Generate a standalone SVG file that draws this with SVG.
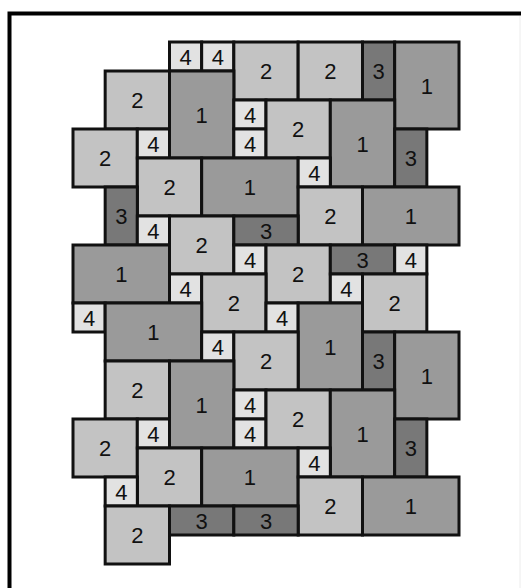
<svg xmlns="http://www.w3.org/2000/svg" width="521" height="588" viewBox="0 0 521 588">
<style>
rect.t{stroke:#111;stroke-width:3}
.a{fill:#9a9a9a}.b{fill:#c3c3c3}.c{fill:#787878}.d{fill:#e2e2e2}
text{font-family:"Liberation Sans",Arial,sans-serif;font-size:22px;fill:#111;text-anchor:middle}
</style>
<rect x="0" y="0" width="521" height="588" fill="#fff"/>
<g id="frame" fill="none" stroke="#000" stroke-width="4">
<path d="M9.5 588 V13.5 H521"/>
</g>
<line x1="520" y1="16" x2="520" y2="588" stroke="#ececec" stroke-width="1"/>
<g id="connectors"></g>
<g id="n1"><rect class="t d" x="169.5" y="42" width="32.17" height="29"/><text x="185.6" y="64.5">4</text></g>
<g id="n2"><rect class="t d" x="201.67" y="42" width="32.17" height="29"/><text x="217.75" y="64.5">4</text></g>
<g id="n3"><rect class="t b" x="233.83" y="42" width="64.33" height="58"/><text x="266" y="79">2</text></g>
<g id="n4"><rect class="t b" x="298.17" y="42" width="64.33" height="58"/><text x="330.33" y="79">2</text></g>
<g id="n5"><rect class="t c" x="362.5" y="42" width="32.17" height="58"/><text x="378.6" y="79">3</text></g>
<g id="n6"><rect class="t a" x="394.67" y="42" width="64.33" height="87"/><text x="426.83" y="93.5">1</text></g>
<g id="n7"><rect class="t b" x="105.17" y="71" width="64.33" height="58"/><text x="137.33" y="108">2</text></g>
<g id="n8"><rect class="t a" x="169.5" y="71" width="64.33" height="87"/><text x="201.67" y="122.5">1</text></g>
<g id="n9"><rect class="t d" x="233.83" y="100" width="32.17" height="29"/><text x="250" y="122.5">4</text></g>
<g id="n10"><rect class="t d" x="233.83" y="129" width="32.17" height="29"/><text x="250" y="151.5">4</text></g>
<g id="n11"><rect class="t b" x="266" y="100" width="64.33" height="58"/><text x="298.17" y="137">2</text></g>
<g id="n12"><rect class="t a" x="330.33" y="100" width="64.33" height="87"/><text x="362.5" y="151.5">1</text></g>
<g id="n13"><rect class="t b" x="73" y="129" width="64.33" height="58"/><text x="105.17" y="166">2</text></g>
<g id="n14"><rect class="t d" x="137.33" y="129" width="32.17" height="29"/><text x="153.4" y="151.5">4</text></g>
<g id="n15"><rect class="t c" x="394.67" y="129" width="32.17" height="58"/><text x="410.75" y="166">3</text></g>
<g id="n16"><rect class="t b" x="137.33" y="158" width="64.33" height="58"/><text x="169.5" y="195">2</text></g>
<g id="n17"><rect class="t a" x="201.67" y="158" width="96.5" height="58"/><text x="249.9" y="195">1</text></g>
<g id="n18"><rect class="t d" x="298.17" y="158" width="32.17" height="29"/><text x="314.25" y="180.5">4</text></g>
<g id="n19"><rect class="t c" x="105.17" y="187" width="32.17" height="58"/><text x="121.25" y="224">3</text></g>
<g id="n20"><rect class="t b" x="298.17" y="187" width="64.33" height="58"/><text x="330.33" y="224">2</text></g>
<g id="n21"><rect class="t a" x="362.5" y="187" width="96.5" height="58"/><text x="410.75" y="224">1</text></g>
<g id="n22"><rect class="t d" x="137.33" y="216" width="32.17" height="29"/><text x="153.4" y="238.5">4</text></g>
<g id="n23"><rect class="t b" x="169.5" y="216" width="64.33" height="58"/><text x="201.67" y="253">2</text></g>
<g id="n24"><rect class="t c" x="233.83" y="216" width="64.33" height="29"/><text x="266" y="238.5">3</text></g>
<g id="n25"><rect class="t a" x="73" y="245" width="96.5" height="58"/><text x="121.25" y="282">1</text></g>
<g id="n26"><rect class="t d" x="233.83" y="245" width="32.17" height="29"/><text x="250" y="267.5">4</text></g>
<g id="n27"><rect class="t b" x="266" y="245" width="64.33" height="58"/><text x="298.17" y="282">2</text></g>
<g id="n28"><rect class="t c" x="330.33" y="245" width="64.33" height="29"/><text x="362.5" y="267.5">3</text></g>
<g id="n29"><rect class="t d" x="394.67" y="245" width="32.17" height="29"/><text x="410.75" y="267.5">4</text></g>
<g id="n30"><rect class="t d" x="169.5" y="274" width="32.17" height="29"/><text x="185.6" y="296.5">4</text></g>
<g id="n31"><rect class="t b" x="201.67" y="274" width="64.33" height="58"/><text x="233.83" y="311">2</text></g>
<g id="n32"><rect class="t d" x="330.33" y="274" width="32.17" height="29"/><text x="346.4" y="296.5">4</text></g>
<g id="n33"><rect class="t b" x="362.5" y="274" width="64.33" height="58"/><text x="394.67" y="311">2</text></g>
<g id="n34"><rect class="t d" x="73" y="303" width="32.17" height="29"/><text x="89.1" y="325.5">4</text></g>
<g id="n35"><rect class="t a" x="105.17" y="303" width="96.5" height="58"/><text x="153.4" y="340">1</text></g>
<g id="n36"><rect class="t d" x="266" y="303" width="32.17" height="29"/><text x="282.1" y="325.5">4</text></g>
<g id="n37"><rect class="t a" x="298.17" y="303" width="64.33" height="87"/><text x="330.33" y="354.5">1</text></g>
<g id="n38"><rect class="t d" x="201.67" y="332" width="32.17" height="29"/><text x="217.75" y="354.5">4</text></g>
<g id="n39"><rect class="t b" x="233.83" y="332" width="64.33" height="58"/><text x="266" y="369">2</text></g>
<g id="n40"><rect class="t c" x="362.5" y="332" width="32.17" height="58"/><text x="378.6" y="369">3</text></g>
<g id="n41"><rect class="t a" x="394.67" y="332" width="64.33" height="87"/><text x="426.83" y="383.5">1</text></g>
<g id="n42"><rect class="t b" x="105.17" y="361" width="64.33" height="58"/><text x="137.33" y="398">2</text></g>
<g id="n43"><rect class="t a" x="169.5" y="361" width="64.33" height="87"/><text x="201.67" y="412.5">1</text></g>
<g id="n44"><rect class="t d" x="233.83" y="390" width="32.17" height="29"/><text x="250" y="412.5">4</text></g>
<g id="n45"><rect class="t d" x="233.83" y="419" width="32.17" height="29"/><text x="250" y="441.5">4</text></g>
<g id="n46"><rect class="t b" x="266" y="390" width="64.33" height="58"/><text x="298.17" y="427">2</text></g>
<g id="n47"><rect class="t a" x="330.33" y="390" width="64.33" height="87"/><text x="362.5" y="441.5">1</text></g>
<g id="n48"><rect class="t b" x="73" y="419" width="64.33" height="58"/><text x="105.17" y="456">2</text></g>
<g id="n49"><rect class="t d" x="137.33" y="419" width="32.17" height="29"/><text x="153.4" y="441.5">4</text></g>
<g id="n50"><rect class="t c" x="394.67" y="419" width="32.17" height="58"/><text x="410.75" y="456">3</text></g>
<g id="n51"><rect class="t b" x="137.33" y="448" width="64.33" height="58"/><text x="169.5" y="485">2</text></g>
<g id="n52"><rect class="t a" x="201.67" y="448" width="96.5" height="58"/><text x="249.9" y="485">1</text></g>
<g id="n53"><rect class="t d" x="298.17" y="448" width="32.17" height="29"/><text x="314.25" y="470.5">4</text></g>
<g id="n54"><rect class="t d" x="105.17" y="477" width="32.17" height="29"/><text x="121.25" y="499.5">4</text></g>
<g id="n55"><rect class="t b" x="298.17" y="477" width="64.33" height="58"/><text x="330.33" y="514">2</text></g>
<g id="n56"><rect class="t a" x="362.5" y="477" width="96.5" height="58"/><text x="410.75" y="514">1</text></g>
<g id="n57"><rect class="t b" x="105.17" y="506" width="64.33" height="58"/><text x="137.33" y="543">2</text></g>
<g id="n58"><rect class="t c" x="169.5" y="506" width="64.33" height="29"/><text x="201.67" y="528.5">3</text></g>
<g id="n59"><rect class="t c" x="233.83" y="506" width="64.33" height="29"/><text x="266" y="528.5">3</text></g>
</svg>
